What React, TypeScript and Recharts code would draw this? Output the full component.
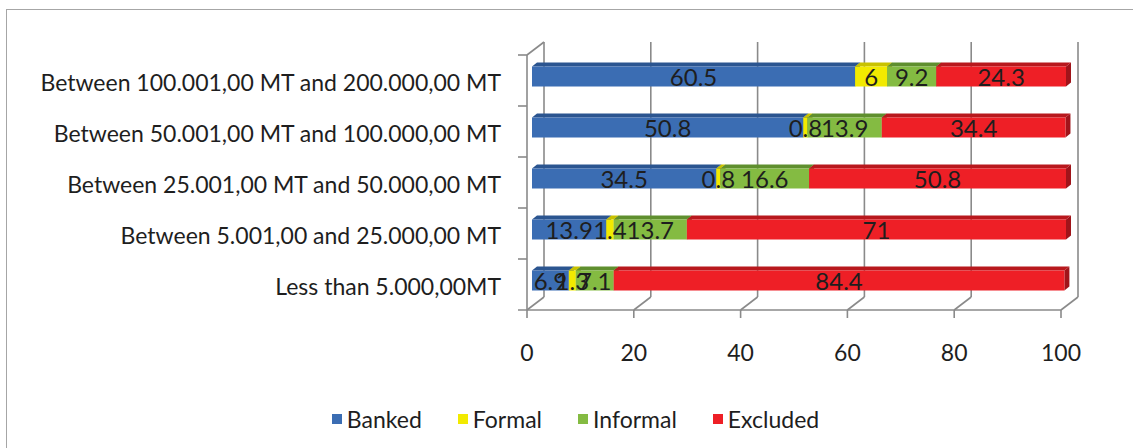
import React from 'react';
import { BarChart, Bar, XAxis, YAxis, CartesianGrid, Legend, LabelList } from 'recharts';

// Income brackets, top to bottom
const categories = [
  'Between 100.001,00 MT and 200.000,00 MT',
  'Between 50.001,00 MT and 100.000,00 MT',
  'Between 25.001,00 MT and 50.000,00 MT',
  'Between 5.001,00 and 25.000,00 MT',
  'Less than 5.000,00MT',
];

// Share of respondents (%) per access strand
const banked = [60.5, 50.8, 34.5, 13.9, 6.9];
const formal = [6, 0.8, 0.8, 1.4, 1.3];
const informal = [9.2, 13.9, 16.6, 13.7, 7.1];
const excluded = [24.3, 34.4, 50.8, 71, 84.4];

const xTicks = [0, 20, 40, 60, 80, 100];
const X_MAX = 100;

const seriesDefs = [
  { key: 'banked', name: 'Banked', front: '#3b6db3', top: '#2b5590', side: '#234a80' },
  { key: 'formal', name: 'Formal', front: '#f2ea00', top: '#c9c200', side: '#aaa300' },
  { key: 'informal', name: 'Informal', front: '#84bb42', top: '#5f8f2e', side: '#4f7a25' },
  { key: 'excluded', name: 'Excluded', front: '#ee1f26', top: '#b8181d', side: '#a0141a' },
];

const data = categories.map((name, i) => ({
  name,
  banked: banked[i],
  formal: formal[i],
  informal: informal[i],
  excluded: excluded[i],
}));

const keys = seriesDefs.map((s) => s.key);

// Front plane of the plot: value 0 sits at PLOT_LEFT, value X_MAX at PLOT_RIGHT_AT_MAX.
const CHART_W = 1133;
const CHART_H = 448;
const PLOT_LEFT = 527;
const PLOT_RIGHT_AT_MAX = 1061;
const PX_PER_UNIT = (PLOT_RIGHT_AT_MAX - PLOT_LEFT) / X_MAX;
// the axis runs to the largest stacked total; bars are cut at X_MAX when drawn
const maxTotal = Math.max(...data.map((row) => keys.reduce((s, k) => s + (row as any)[k], 0)));
const rightMargin = CHART_W - PLOT_LEFT - Math.max(maxTotal, X_MAX) * PX_PER_UNIT;

// 3D depth of the chart walls and of the bars
const WALL_DX = 17;
const WALL_DY = -13;
const BAR_SHIFT_X = 5;
const BAR_SHIFT_Y = -4.5;
const BAR_DEPTH_X = 5;
const BAR_DEPTH_Y = -4;

const FONT = 'Lato, "Open Sans", sans-serif';
const TEXT = '#1e1e1e';
const GRID = '#8a8a8a';

// start value of a stacked segment within its row
const segmentStart = (row: any, key: string) => {
  let s = 0;
  for (const k of keys) {
    if (k === key) break;
    s += row[k];
  }
  return s;
};

// visible pixel width of a segment, cut at the axis maximum
const visibleWidth = (row: any, key: string, width: number) => {
  const v = row[key];
  if (!v) return 0;
  const start = segmentStart(row, key);
  const ppu = width / v;
  const end = Math.min(start + v, X_MAX);
  return Math.max(0, (end - start) * ppu);
};

const makeShape = (def: typeof seriesDefs[number]) => (props: any) => {
  const { x, y, width, height, index } = props;
  const row = data[index];
  const w = visibleWidth(row, def.key, width);
  if (w <= 0) return <g />;
  const fx = x + BAR_SHIFT_X;
  const fy = y + BAR_SHIFT_Y;
  const dx = BAR_DEPTH_X;
  const dy = BAR_DEPTH_Y;
  return (
    <g>
      <polygon
        points={`${fx + w},${fy} ${fx + w + dx},${fy + dy} ${fx + w + dx},${fy + height + dy} ${fx + w},${fy + height}`}
        fill={def.side}
      />
      <polygon
        points={`${fx},${fy} ${fx + dx},${fy + dy} ${fx + w + dx},${fy + dy} ${fx + w},${fy}`}
        fill={def.top}
      />
      <rect x={fx} y={fy} width={w} height={height} fill={def.front} />
    </g>
  );
};

const makeLabel = (def: typeof seriesDefs[number]) => (props: any) => {
  const { x, y, width, height, index, value } = props;
  const row = data[index];
  const w = visibleWidth(row, def.key, width);
  const cx = x + BAR_SHIFT_X + w / 2;
  const cy = y + BAR_SHIFT_Y + height / 2;
  return (
    <text
      x={cx}
      y={cy}
      textAnchor="middle"
      dominantBaseline="central"
      fontFamily={FONT}
      fontSize={24}
      fill={TEXT}
    >
      {value}
    </text>
  );
};

// back-wall gridline plus the floor edge that joins it to the front tick
const wallLine = (props: any) => {
  const { x1, y1, y2, index } = props;
  // only the tick positions 0..X_MAX get a wall line
  if (x1 > PLOT_RIGHT_AT_MAX + 1) return <g key={`wall-${index}`} />;
  return (
    <g key={`wall-${index}`}>
      <line x1={x1 + WALL_DX} y1={y1 + WALL_DY} x2={x1 + WALL_DX} y2={y2 + WALL_DY} stroke={GRID} strokeWidth={1.6} />
      <line x1={x1} y1={y2} x2={x1 + WALL_DX} y2={y2 + WALL_DY} stroke={GRID} strokeWidth={1.6} />
      {index === 0 && (
        <line x1={x1} y1={y1} x2={x1 + WALL_DX} y2={y1 + WALL_DY} stroke={GRID} strokeWidth={1.6} />
      )}
    </g>
  );
};

const XTick = (props: any) => {
  const { x, y, payload, index } = props;
  return (
    <g>
      {index === 0 && <line x1={PLOT_LEFT - 9} y1={y} x2={PLOT_RIGHT_AT_MAX} y2={y} stroke={GRID} strokeWidth={1.6} />}
      <line x1={x} y1={y} x2={x} y2={y + 8} stroke={GRID} strokeWidth={1.6} />
      <text x={x} y={y + 42} textAnchor="middle" dominantBaseline="central" fontFamily={FONT} fontSize={23} fill={TEXT}>
        {payload.value}
      </text>
    </g>
  );
};

const YTick = (props: any) => {
  const { x, y, payload } = props;
  const half = payload.offset ?? 25.5;
  return (
    <g>
      <line x1={x - 9} y1={y - half} x2={x} y2={y - half} stroke={GRID} strokeWidth={1.6} />
      <text x={x - 26} y={y + 1} textAnchor="end" dominantBaseline="central" fontFamily={FONT} fontSize={23} fill={TEXT}>
        {payload.value}
      </text>
    </g>
  );
};

const LegendContent = () => (
  <div
    style={{
      display: 'flex',
      justifyContent: 'center',
      alignItems: 'center',
      gap: 36,
      fontFamily: FONT,
      fontSize: 23,
      lineHeight: '28px',
      color: TEXT,
      paddingLeft: 18,
    }}
  >
    {seriesDefs.map((s) => (
      <div key={s.key} style={{ display: 'flex', alignItems: 'center', gap: 5 }}>
        <span style={{ display: 'inline-block', width: 10, height: 10, background: s.front }} />
        <span>{s.name}</span>
      </div>
    ))}
  </div>
);

export default function App() {
  return (
    <div style={{ position: 'absolute', left: 0, top: 0, width: CHART_W, height: CHART_H, overflow: 'hidden', background: '#fff' }}>
      <div
        style={{
          position: 'absolute',
          left: 6,
          top: 9,
          width: 1200,
          height: 500,
          border: '1px solid #a6a6a6',
          boxSizing: 'border-box',
        }}
      />
      <div style={{ position: 'absolute', left: 0, top: 0 }}>
        <BarChart
          width={CHART_W}
          height={CHART_H}
          data={data}
          layout="vertical"
          margin={{ top: 55, right: rightMargin, bottom: 98, left: 0 }}
          barSize={20}
        >
          <CartesianGrid horizontal={false} vertical={wallLine} />
          <XAxis
            type="number"
            domain={[0, 'dataMax']}
            ticks={xTicks}
            axisLine={false}
            tickLine={false}
            tickSize={0}
            tickMargin={0}
            tick={<XTick />}
            height={40}
            interval={0}
          />
          <YAxis
            type="category"
            dataKey="name"
            width={PLOT_LEFT}
            axisLine={{ stroke: GRID, strokeWidth: 1.6 }}
            tickLine={false}
            tickSize={0}
            tickMargin={0}
            tick={<YTick />}
            interval={0}
          />
          <Legend
            layout="horizontal"
            verticalAlign="middle"
            align="center"
            content={<LegendContent />}
            wrapperStyle={{ position: 'absolute', top: 405, left: 0, width: CHART_W }}
          />
          {seriesDefs.map((s) => (
            <Bar
              key={s.key}
              dataKey={s.key}
              name={s.name}
              stackId="a"
              fill={s.front}
              shape={makeShape(s)}
              isAnimationActive={false}
            >
              <LabelList dataKey={s.key} content={makeLabel(s)} />
            </Bar>
          ))}
        </BarChart>
      </div>
    </div>
  );
}
